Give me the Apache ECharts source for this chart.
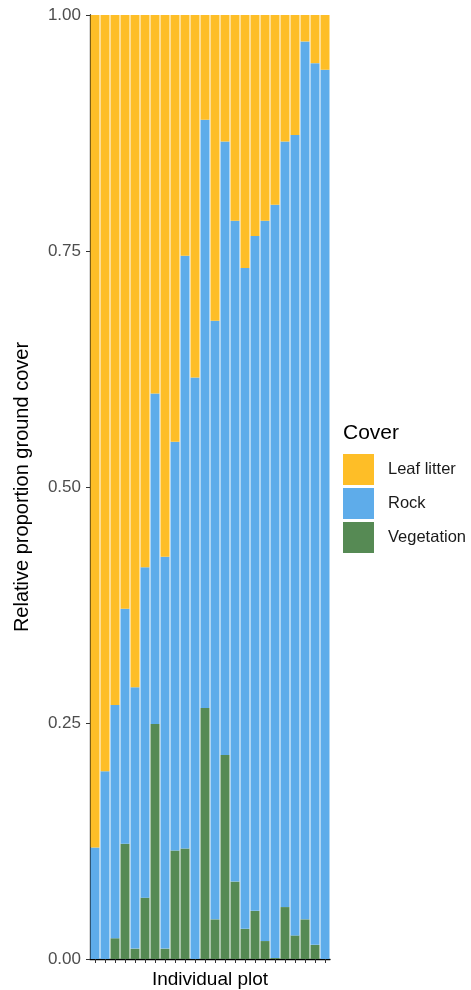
<!DOCTYPE html>
<html>
<head>
<meta charset="utf-8">
<script src="https://cdn.jsdelivr.net/npm/echarts@6/dist/echarts.min.js"></script>
<style>
  html, body { margin: 0; padding: 0; background: #fff; }
  #chart { width: 471px; height: 990px; }
</style>
</head>
<body>
<div id="chart"></div>
<script>
// Plot identifiers (24 plots, unlabeled on the axis)
const plots = Array.from({ length: 24 }, (_, i) => 'P' + (i + 1));

// Proportion of ground covered by vegetation in each plot
const vegetation = [0, 0, 0.022, 0.122, 0.011, 0.065, 0.249, 0.011, 0.115, 0.117, 0, 0.266,
                    0.042, 0.216, 0.082, 0.032, 0.051, 0.019, 0.001, 0.055, 0.025, 0.042, 0.015, 0];
// Proportion covered by rock
const rock = [0.118, 0.199, 0.247, 0.249, 0.277, 0.350, 0.350, 0.415, 0.433, 0.628, 0.616, 0.623,
              0.634, 0.650, 0.700, 0.700, 0.715, 0.763, 0.798, 0.811, 0.848, 0.930, 0.934, 0.942];
// Proportion covered by leaf litter
const leafLitter = [0.882, 0.801, 0.731, 0.629, 0.712, 0.585, 0.401, 0.574, 0.452, 0.255, 0.384, 0.111,
                    0.324, 0.134, 0.218, 0.268, 0.234, 0.218, 0.201, 0.134, 0.127, 0.028, 0.051, 0.058];

const yTicks = [0, 0.25, 0.5, 0.75, 1];

const colors = { leaf: '#FEBE27', rock: '#5EACEA', veg: '#568A54' };
const font = 'Liberation Sans, Arial, sans-serif';

const chart = echarts.init(document.getElementById('chart'), null, { renderer: 'canvas' });

chart.setOption({
  animation: false,
  textStyle: { fontFamily: font },
  grid: { left: 90, right: 141, top: 15, bottom: 31, containLabel: false, outerBoundsMode: 'none' },
  legend: {
    orient: 'vertical',
    left: 343,
    top: 454,
    itemWidth: 31,
    itemHeight: 31,
    itemGap: 3,
    icon: 'rect',
    data: ['Leaf litter', 'Rock', 'Vegetation'],
    textStyle: { fontSize: 16.5, color: '#1a1a1a', padding: [0, 0, 0, 9] },
    itemStyle: { borderWidth: 0 },
    padding: 0,
    selectedMode: false
  },
  graphic: [
    {
      type: 'text', left: 343, top: 423,
      style: { text: 'Cover', fontSize: 21, fill: '#000', fontFamily: font }
    }
  ],
  xAxis: {
    type: 'category',
    data: plots,
    name: 'Individual plot',
    nameLocation: 'middle',
    nameGap: 11,
    nameTextStyle: { fontSize: 19, color: '#000', verticalAlign: 'top' },
    axisLine: { lineStyle: { color: '#000', width: 1.3 } },
    axisTick: { show: true, alignWithLabel: true, interval: 0, length: 4, lineStyle: { color: '#333' } },
    axisLabel: { show: false },
    splitLine: { show: false }
  },
  yAxis: {
    type: 'value',
    min: yTicks[0],
    max: yTicks[yTicks.length - 1],
    interval: 0.25,
    name: 'Relative proportion ground cover',
    nameLocation: 'middle',
    nameGap: 58,
    nameTextStyle: { fontSize: 20, color: '#000' },
    axisLine: { show: true, lineStyle: { color: '#000', width: 1.3 } },
    axisTick: { show: true, length: 4, lineStyle: { color: '#333' } },
    axisLabel: { fontSize: 17, color: '#4d4d4d', margin: 9, formatter: v => v.toFixed(2) },
    splitLine: { show: false }
  },
  series: [
    {
      name: 'Vegetation', type: 'bar', stack: 'cover', data: vegetation,
      barCategoryGap: '10%', itemStyle: { color: colors.veg }
    },
    {
      name: 'Rock', type: 'bar', stack: 'cover', data: rock,
      itemStyle: { color: colors.rock }
    },
    {
      name: 'Leaf litter', type: 'bar', stack: 'cover', data: leafLitter,
      itemStyle: { color: colors.leaf }
    }
  ]
});
</script>
</body>
</html>
